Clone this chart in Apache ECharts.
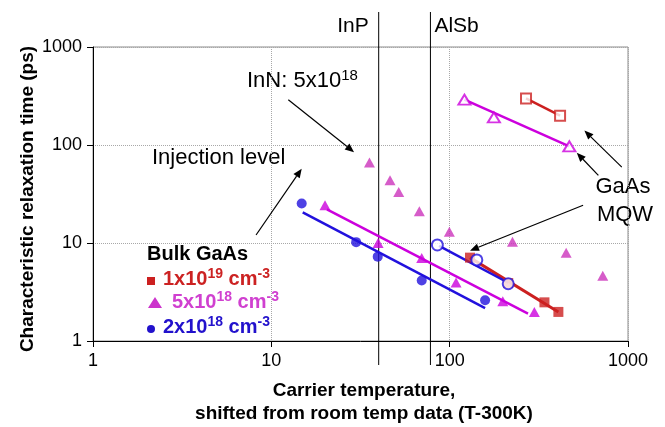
<!DOCTYPE html>
<html><head><meta charset="utf-8">
<script src="https://cdn.jsdelivr.net/npm/echarts@6/dist/echarts.min.js"></script>
<style>html,body{margin:0;padding:0;background:#fff}#c{width:665px;height:427px}</style>
</head><body><div id="c"></div>
<script>
// ---- data (x: carrier temperature, y: relaxation time in ps) ----
const bulk1e19 = [[130,7.09],[213,3.90],[340,2.48],[407,1.98]];
const bulk1e19Fit = [[130,7.09],[407,1.98]];
const bulk5e18 = [[20.0,24.3],[39.7,10.0],[69.7,7.04],[108.6,3.95],[198.6,2.54],[298.5,1.98]];
const bulk5e18Fit = [[20.5,22.0],[275,1.90]];
const bulk2e18 = [[14.8,25.3],[29.9,10.2],[39.5,7.26],[69.7,4.14],[158,2.60]];
const bulk2e18Fit = [[15.0,20.5],[158,2.17]];
const mqw1e19 = [[268,299],[416,199]];
const mqw5e18 = [[121,290],[177,191],[469,97]];
const mqw5e18Fit = [[121,290],[469,97]];
const mqw2e18 = [[85.3,9.55],[142,6.72],[213,3.84]];
const mqw2e18Fit = [[87.2,9.33],[213,3.93]];
const inn5e18 = [[35.5,66.4],[46.3,43.6],[51.8,33.2],[67.6,21.1],[99.6,13.0],[225,10.3],[450,7.97],[722,4.62]];
const materials = ['InP','AlSb'];
const materialTemps = [40, 78];
const xTickLabels = ['1','10','100','1000'];
const yTickLabels = ['1','10','100','1000'];
// annotation arrows in data units: [fromX, fromY, toX, toY]
const arrows = [
  [12.45,289.7,29.1,84.5],
  [8.21,12.06,14.8,57.3],
  [560,24.3,130,8.35],
  [923,59.5,569.5,140.4],
  [682,49.0,516,83.3]
];

const FONT = '"Liberation Sans", Arial, sans-serif';
const RED = '#cc2020', MAG = '#cc00dd', INN = '#cc33bb', BLUE = '#2211dd';

const chart = echarts.init(document.getElementById('c'), null, {renderer:'canvas'});

function line(data, color, w){
  return {type:'line', data, symbol:'none', lineStyle:{color, width:w}, silent:true, z:2};
}
function scat(data, symbol, size, color, extra){
  return Object.assign({type:'scatter', data, symbol, symbolSize:size, itemStyle:{color}, silent:true, z:3}, extra||{});
}

const sup = (fs)=>({fontSize:fs, fontFamily:FONT, verticalAlign:'top', padding:[0,0,0,0]});

const option = {
  animation:false,
  grid:{left:93, right:37, top:47, bottom:86, show:true, borderColor:'#8c8c8c', borderWidth:1},
  xAxis:{type:'log', logBase:10, min:1, max:1000,
    axisLine:{lineStyle:{color:'#000', width:1}, onZero:false},
    axisTick:{length:6, lineStyle:{color:'#000'}},
    minorTick:{show:false},
    axisLabel:{margin:11, color:'#000', fontSize:18, fontFamily:FONT,
      formatter:(v)=>xTickLabels[Math.round(Math.log10(v))]},
    splitLine:{show:true, lineStyle:{color:'#a8a8a8', type:'dotted', width:1}}
  },
  yAxis:{type:'log', logBase:10, min:1, max:1000,
    axisLine:{lineStyle:{color:'#000', width:1}, onZero:false},
    axisTick:{length:6, lineStyle:{color:'#000'}},
    axisLabel:{margin:11, color:'#000', fontSize:18, fontFamily:FONT,
      formatter:(v)=>yTickLabels[Math.round(Math.log10(v))]},
    splitLine:{show:true, lineStyle:{color:'#a8a8a8', type:'dotted', width:1}}
  },
  series:[
    // material reference lines
    {type:'custom', clip:false, silent:true, z:1,
      data: materialTemps.map((t)=>[t,1]),
      renderItem:(params, api)=>{
        const top = api.coord([api.value(0), 1000]);
        const bot = api.coord([api.value(0), 1]);
        const i = params.dataIndex;
        const left = i===0;
        return {type:'group', children:[
          {type:'line', shape:{x1:top[0], y1:top[1]-35, x2:top[0], y2:bot[1]+24}, style:{stroke:'#000', lineWidth:1}},
          {type:'text', x: left ? top[0]-10 : top[0]+4, y: top[1]-21,
            style:{text:materials[i], fill:'#000', font:'21px '+FONT, align: left?'right':'left', verticalAlign:'middle'}}
        ]};
      }
    },
    // annotation arrows
    {type:'custom', clip:false, silent:true, z:5,
      data: arrows,
      encode:{x:[0,2], y:[1,3]},
      renderItem:(params, api)=>{
        const p1 = api.coord([api.value(0), api.value(1)]);
        const p2 = api.coord([api.value(2), api.value(3)]);
        const dx = p2[0]-p1[0], dy = p2[1]-p1[1];
        const len = Math.sqrt(dx*dx+dy*dy);
        const ux = dx/len, uy = dy/len;
        const hl = 9, hw = 3.8;
        const bx = p2[0]-ux*hl, by = p2[1]-uy*hl;
        return {type:'group', children:[
          {type:'line', shape:{x1:p1[0], y1:p1[1], x2:bx, y2:by}, style:{stroke:'#000', lineWidth:1.2}},
          {type:'polygon', shape:{points:[[p2[0],p2[1]],[bx-uy*hw, by+ux*hw],[bx+uy*hw, by-ux*hw]]}, style:{fill:'#000'}}
        ]};
      }
    },
    line(bulk1e19Fit, RED, 3),
    line(mqw1e19, RED, 2.5),
    scat(bulk1e19, 'rect', 10, RED),
    scat(mqw1e19, 'emptyRect', 10, RED, {itemStyle:{color:RED, borderWidth:1.3}}),
    line(bulk5e18Fit, MAG, 2.5),
    line(mqw5e18Fit, MAG, 2.5),
    scat(bulk5e18, 'triangle', [11,10], MAG),
    scat(mqw5e18, 'emptyTriangle', [12,10], MAG, {itemStyle:{color:MAG, borderWidth:1.2}}),
    scat(inn5e18, 'triangle', [11,10], INN),
    line(bulk2e18Fit, BLUE, 2.5),
    line(mqw2e18Fit, BLUE, 2.5),
    scat(bulk2e18, 'circle', 10, BLUE),
    scat(mqw2e18, 'emptyCircle', 11, BLUE, {itemStyle:{color:BLUE, borderWidth:1.2}, z:4})
  ],
  graphic:[
    // axis titles
    {type:'text', x:28, y:199, rotation:Math.PI/2,
      style:{text:'Characteristic relaxation time (ps)', fill:'#000', font:'bold 19px '+FONT, align:'center', verticalAlign:'middle'}},
    {type:'text', x:364, y:391,
      style:{text:'Carrier temperature,', fill:'#000', font:'bold 19px '+FONT, align:'center', verticalAlign:'middle'}},
    {type:'text', x:364, y:414,
      style:{text:'shifted from room temp data (T-300K)', fill:'#000', font:'bold 19px '+FONT, align:'center', verticalAlign:'middle'}},
    // annotations
    {type:'text', x:247, y:80,
      style:{text:'{m|InN: 5x10}{s|18}', fill:'#000', verticalAlign:'middle',
        rich:{m:{fontSize:22, fontFamily:FONT, lineHeight:24, verticalAlign:'bottom'}, s:sup(15)}}},
    {type:'text', x:152, y:158,
      style:{text:'Injection level', fill:'#000', font:'22px '+FONT, verticalAlign:'middle'}},
    {type:'text', x:623, y:187,
      style:{text:'GaAs', fill:'#000', font:'22px '+FONT, align:'center', verticalAlign:'middle'}},
    {type:'text', x:625, y:215,
      style:{text:'MQW', fill:'#000', font:'22px '+FONT, align:'center', verticalAlign:'middle'}},
    // legend
    {type:'text', x:147, y:254,
      style:{text:'Bulk GaAs', fill:'#000', font:'bold 20px '+FONT, verticalAlign:'middle'}},
    {type:'rect', shape:{x:147, y:277, width:8, height:8}, style:{fill:RED}},
    {type:'text', x:163, y:278,
      style:{text:'{m|1x10}{s|19}{m| cm}{s|-3}', fill:'#cc2222', verticalAlign:'middle',
        rich:{m:{fontSize:20, fontWeight:'bold', fontFamily:FONT, lineHeight:22, verticalAlign:'bottom'}, s:Object.assign(sup(14),{fontWeight:'bold'})}}},
    {type:'polygon', shape:{points:[[155,297],[148,308],[162,308]]}, style:{fill:'#cc33cc'}},
    {type:'text', x:172, y:301,
      style:{text:'{m|5x10}{s|18}{m| cm}{s|-3}', fill:'#d040d0', verticalAlign:'middle',
        rich:{m:{fontSize:20, fontWeight:'bold', fontFamily:FONT, lineHeight:22, verticalAlign:'bottom'}, s:Object.assign(sup(14),{fontWeight:'bold'})}}},
    {type:'circle', shape:{cx:151, cy:329, r:4}, style:{fill:'#2211cc'}},
    {type:'text', x:163, y:326,
      style:{text:'{m|2x10}{s|18}{m| cm}{s|-3}', fill:'#2211cc', verticalAlign:'middle',
        rich:{m:{fontSize:20, fontWeight:'bold', fontFamily:FONT, lineHeight:22, verticalAlign:'bottom'}, s:Object.assign(sup(14),{fontWeight:'bold'})}}}
  ]
};
chart.setOption(option);
</script>
</body></html>
